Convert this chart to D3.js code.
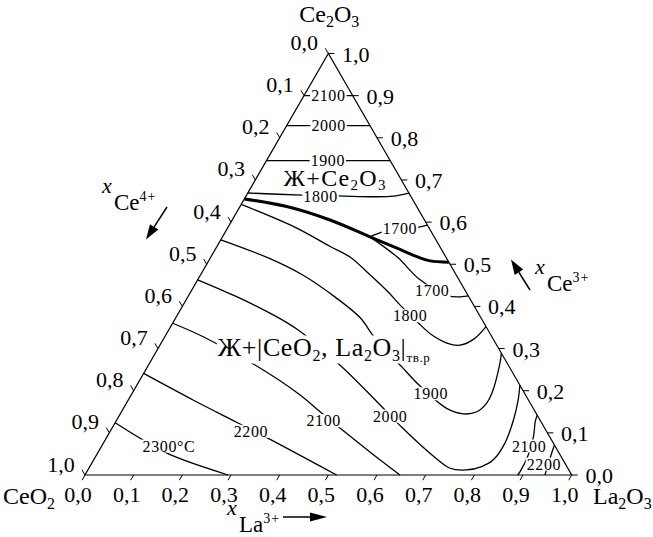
<!DOCTYPE html>
<html lang="ru">
<head>
<meta charset="UTF-8">
<title>CeO2–Ce2O3–La2O3</title>
<script src="https://d3js.org/d3.v7.min.js"></script>
<style>
    body { margin: 0; background: #fff; }
    svg { display: block; background: #fff; font-family: 'Liberation Serif', 'Times New Roman', serif; }
    .edge { fill: none; stroke: #000; stroke-width: 1.2px; }
    .tick { stroke: #000; stroke-width: 1px; }
    .iso { fill: none; stroke: #000; stroke-width: 1.3px; }
    .boundary { fill: none; stroke: #000; stroke-width: 3px; }
    .tick-label { font-size: 22px; }
    .iso-label { font-size: 16px; }
    .phase { font-size: 25px; }
</style>
</head>
<body>
<svg width="653" height="537"></svg>
<script>
    // состав точки: [x_La3+, x_Ce3+], x_Ce4+ = 1 - x_La3+ - x_Ce3+
    const tickValues = d3.range(0, 11).map(i => i / 10);
    const tickLabels = tickValues.map(v => v.toFixed(1).replace(".", ","));

    // поле Ж+Ce2O3
    const iso2100a = [[0, 0.900], [0.100, 0.900]];
    const iso2000a = [[0, 0.829], [0.171, 0.829]];
    const iso1900a = [[0, 0.746], [0.254, 0.746]];
    const iso1800a = [[0, 0.669], [0.114, 0.664], [0.189, 0.662], [0.296, 0.661], [0.331, 0.669]];
    const iso1700a = [[0.407, 0.593], [0.376, 0.584], [0.324, 0.577], [0.303, 0.565]];

    // граница полей (жирная линия)
    const boundary = [[0, 0.655], [0.096, 0.637], [0.201, 0.605], [0.303, 0.565], [0.372, 0.538],
                      [0.423, 0.518], [0.455, 0.508], [0.495, 0.505]];

    // поле Ж+|CeO2, La2O3|тв.р
    const iso1700b = [[0.303, 0.565], [0.383, 0.517], [0.457, 0.463], [0.534, 0.425], [0.563, 0.423], [0.575, 0.425]];
    const iso1800b = [[0, 0.642], [0.137, 0.588], [0.233, 0.542], [0.286, 0.517], [0.348, 0.475], [0.406, 0.434],
                      [0.446, 0.403], [0.504, 0.361], [0.547, 0.332], [0.587, 0.313], [0.616, 0.308],
                      [0.638, 0.323], [0.648, 0.352]];
    const iso1900b = [[0, 0.558], [0.119, 0.515], [0.209, 0.475], [0.303, 0.422], [0.379, 0.373], [0.433, 0.325],
                      [0.522, 0.257], [0.583, 0.211], [0.664, 0.158], [0.705, 0.145], [0.730, 0.150],
                      [0.740, 0.170], [0.739, 0.194], [0.720, 0.265], [0.711, 0.289]];
    const iso2000b = [[0, 0.463], [0.100, 0.423], [0.188, 0.384], [0.266, 0.344], [0.399, 0.257], [0.529, 0.162],
                      [0.596, 0.112], [0.693, 0.045], [0.742, 0.016], [0.778, 0.012], [0.805, 0.020],
                      [0.821, 0.036], [0.825, 0.075], [0.815, 0.131], [0.801, 0.178], [0.787, 0.213]];
    const iso2100b = [[0, 0.360], [0.079, 0.328], [0.219, 0.261], [0.347, 0.190], [0.408, 0.150], [0.469, 0.111],
                      [0.588, 0.036], [0.647, 0]];
    const iso2200b = [[0, 0.241], [0.133, 0.178], [0.245, 0.127], [0.333, 0.087], [0.517, 0]];
    const iso2300b = [[0, 0.124], [0.078, 0.083], [0.154, 0.047], [0.294, 0]];
    const iso2100c = [[0.858, 0.142], [0.862, 0.126], [0.876, 0.091], [0.887, 0.047], [0.890, 0.008], [0.889, 0]];
    const iso2200c = [[0.929, 0.071], [0.934, 0.047], [0.945, 0]];

    const isotherms = [iso2100a, iso2000a, iso1900a, iso1800a, iso1700a, iso1700b, iso1800b, iso1900b,
                       iso2000b, iso2100b, iso2200b, iso2300b, iso2100c, iso2200c];

    const isoLabels = [
        ["2100", [0.050, 0.900]], ["2000", [0.086, 0.829]], ["1900", [0.126, 0.746]], ["1800", [0.153, 0.662]],
        ["1700", [0.355, 0.584]], ["1700", [0.495, 0.437]], ["1800", [0.479, 0.378]], ["1900", [0.614, 0.193]],
        ["2000", [0.557, 0.140]], ["2100", [0.426, 0.129]], ["2200", [0.289, 0.104]], ["2300°C", [0.138, 0.069]],
        ["2100", [0.878, 0.069]], ["2200", [0.930, 0.026]]
    ];

    const svg = d3.select("svg");
    const X = d3.scaleLinear().domain([0, 1]).range([85, 571.7]);
    const Y = d3.scaleLinear().domain([0, 1]).range([475, 53.5]);
    const px = d => X(d[0] + d[1] / 2);
    const py = d => Y(d[1]);
    const curve = d3.line().x(px).y(py).curve(d3.curveCatmullRom.alpha(0.5));

    // изотермы
    svg.selectAll(".iso")
        .data(isotherms)
        .enter()
        .append("path")
        .attr("class", "iso")
        .attr("d", curve);

    svg.append("path")
        .attr("class", "boundary")
        .attr("d", curve(boundary));

    // названия фаз
    function phaseLabel(pos, parts, len, backing) {
        const g = svg.append("g");
        const rect = g.append("rect").attr("fill", "#fff");
        const t = g.append("text")
            .attr("class", "phase")
            .attr("text-anchor", "middle")
            .attr("x", px(pos)).attr("y", py(pos))
            .attr("textLength", len).attr("lengthAdjust", "spacing");
        let shift = 0;
        parts.forEach(p => {
            t.append("tspan").attr("dy", p[1] - shift).style("font-size", p[2] + "px").text(p[0]);
            shift = p[1];
        });
        if (backing) {
            const b = t.node().getBBox();
            rect.attr("x", b.x - 1).attr("y", b.y + 3).attr("width", b.width + 2).attr("height", b.height - 4);
        }
    }
    phaseLabel([0.170, 0.685], [["Ж+Ce", 0, 24], ["2", 4, 15], ["O", 0, 24], ["3", 4, 15]], 102, false);
    phaseLabel([0.349, 0.2835], [["Ж+|CeO", 0, 26], ["2", 5, 16], [", La", 0, 26], ["2", 5, 16],
                                 ["O", 0, 26], ["3", 5, 16], ["|", 0, 26], ["тв.р", 6, 13]], 212, true);

    // подписи изотерм на белой подложке
    const lab = svg.selectAll(".iso-lab")
        .data(isoLabels)
        .enter()
        .append("g")
        .attr("class", "iso-lab");
    lab.append("rect").attr("fill", "#fff");
    lab.append("text")
        .attr("class", "iso-label")
        .attr("text-anchor", "middle")
        .attr("x", d => px(d[1]))
        .attr("y", d => py(d[1]))
        .attr("dy", "0.35em")
        .attr("letter-spacing", "0.6px")
        .text(d => d[0]);
    lab.each(function () {
        const b = d3.select(this).select("text").node().getBBox();
        d3.select(this).select("rect")
            .attr("x", b.x - 1).attr("y", b.y + 2)
            .attr("width", b.width + 2).attr("height", b.height - 4);
    });

    // треугольник
    const corners = [[0, 0], [1, 0], [0, 1]];
    svg.append("path")
        .attr("class", "edge")
        .attr("d", d3.line().x(px).y(py).curve(d3.curveLinearClosed)(corners));

    // шкалы
    const tickLen = 6;
    const axes = [
        { pos: t => [t, 0], dir: [-0.5, 0.866], off: [-7, 26.5] },      // x_La3+
        { pos: t => [1 - t, t], dir: [1, 0], off: [27.5, 8] },           // x_Ce3+
        { pos: t => [0, 1 - t], dir: [-0.5, -0.866], off: [-24, -3.5] }  // x_Ce4+
    ];
    axes.forEach(ax => {
        svg.append("g").selectAll("line")
            .data(tickValues)
            .enter()
            .append("line")
            .attr("class", "tick")
            .attr("x1", t => px(ax.pos(t)))
            .attr("y1", t => py(ax.pos(t)))
            .attr("x2", t => px(ax.pos(t)) + ax.dir[0] * tickLen)
            .attr("y2", t => py(ax.pos(t)) + ax.dir[1] * tickLen);
        svg.append("g").selectAll("text")
            .data(tickValues)
            .enter()
            .append("text")
            .attr("class", "tick-label")
            .attr("text-anchor", "middle")
            .attr("x", t => px(ax.pos(t)) + ax.off[0])
            .attr("y", t => py(ax.pos(t)) + ax.off[1])
            .text((t, i) => tickLabels[i]);
    });

    // вершины
    function formula(x, y, anchor, parts) {
        const t = svg.append("text").attr("x", x).attr("y", y).attr("text-anchor", anchor)
            .style("font-size", "24px");
        let shift = 0;
        parts.forEach(p => {
            t.append("tspan").attr("dy", p[1] - shift).style("font-size", p[2] + "px").text(p[0]);
            shift = p[1];
        });
    }
    formula(px(corners[2]) + 1, 22, "middle", [["Ce", 0, 24], ["2", 5, 16], ["O", 0, 24], ["3", 5, 16]]);
    formula(3, 504, "start", [["CeO", 0, 24], ["2", 5, 16]]);
    formula(593, 504, "start", [["La", 0, 24], ["2", 5, 16], ["O", 0, 24], ["3", 5, 16]]);

    // обозначения осей
    function axisTitle(x, y, ion, charge) {
        const t = svg.append("text");
        t.append("tspan").attr("x", x).attr("y", y).style("font-style", "italic").style("font-size", "22px").text("x");
        t.append("tspan").attr("x", x + 12).attr("y", y + 17).style("font-size", "23px").text(ion);
        t.append("tspan").attr("dy", -9).style("font-size", "14px").attr("letter-spacing", "1px").text(charge);
    }
    axisTitle(102, 193, "Ce", "4+");
    axisTitle(535, 274, "Ce", "3+");
    axisTitle(227, 515, "La", "3+");

    function arrow(x1, y1, x2, y2, len, half) {
        const dx = x2 - x1, dy = y2 - y1, L = Math.hypot(dx, dy);
        const ux = dx / L, uy = dy / L;
        const bx = x2 - ux * len, by = y2 - uy * len;
        svg.append("line").attr("x1", x1).attr("y1", y1).attr("x2", bx).attr("y2", by)
            .attr("stroke", "#000").attr("stroke-width", 1.5);
        svg.append("path")
            .attr("d", `M${x2},${y2}L${bx - uy * half},${by + ux * half}L${bx + uy * half},${by - ux * half}Z`)
            .attr("fill", "#000");
    }
    arrow(167, 207, 146, 239.5, 15, 5);
    arrow(530, 290, 511, 259.5, 15, 5);
    arrow(283, 517, 327, 517, 17, 4.5);
</script>
</body>
</html>
